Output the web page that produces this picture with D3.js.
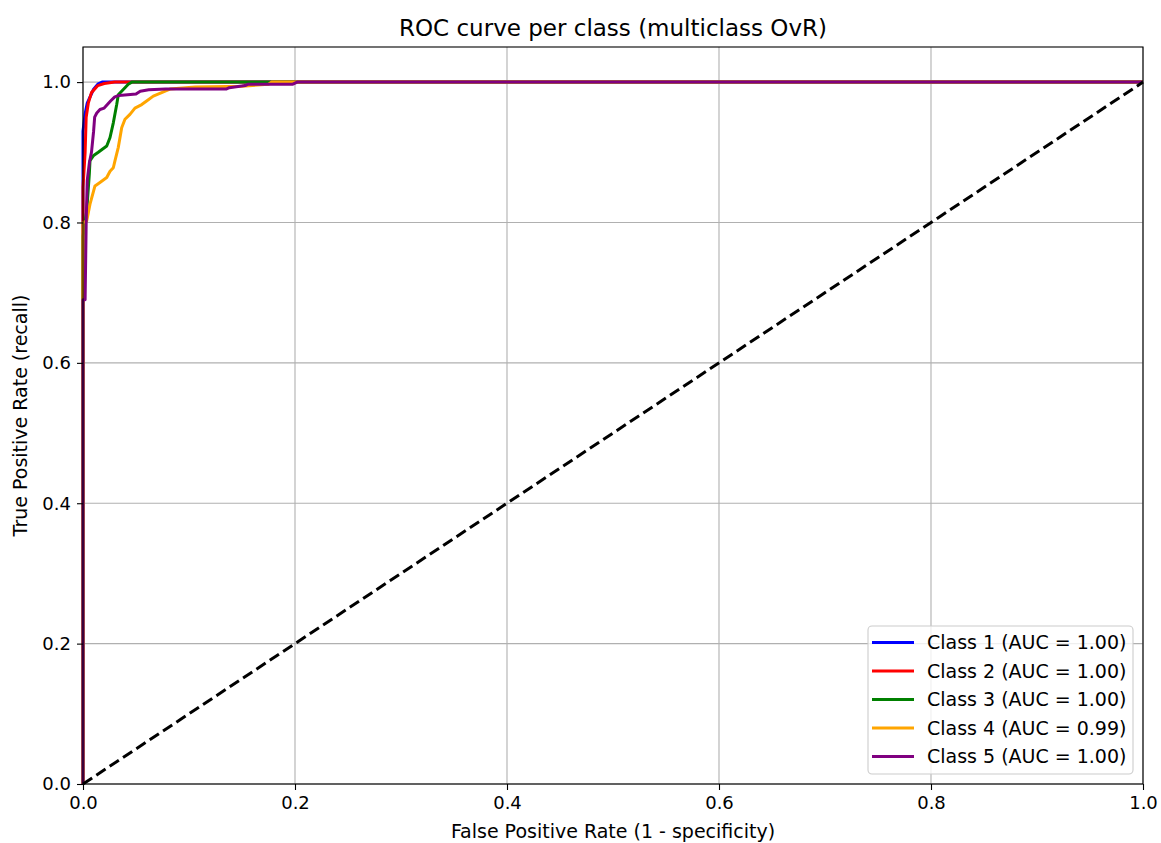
<!DOCTYPE html>
<html>
<head>
<meta charset="utf-8">
<script src="https://cdn.jsdelivr.net/npm/d3@7"></script>
<style>
  body { margin: 0; background: #fff; }
  svg text { font-family: "DejaVu Sans", sans-serif; fill: #000; }
</style>
</head>
<body>
<svg id="chart" width="1161" height="843"></svg>
<script>
// ROC points per class, [fpr, tpr]
var class1 = [[0,0],[0,0.93],[0.002,0.955],[0.004,0.97],[0.007,0.98],[0.01,0.99],[0.014,0.997],[0.018,1.0],[1,1]];
var class2 = [[0,0],[0,0.85],[0.002,0.9],[0.003,0.95],[0.005,0.97],[0.008,0.985],[0.014,0.995],[0.02,0.998],[0.03,1.0],[1,1]];
var class3 = [[0,0],[0,0.78],[0.0035,0.816],[0.006,0.87],[0.0066,0.888],[0.0097,0.895],[0.0144,0.9],[0.0224,0.909],[0.0255,0.921],
              [0.0286,0.942],[0.0318,0.968],[0.0333,0.982],[0.0396,0.992],[0.0427,0.997],[0.046,1.0],[1,1]];
var class4 = [[0,0],[0,0.8],[0.0035,0.802],[0.0066,0.826],[0.0113,0.852],[0.016,0.857],[0.0224,0.864],[0.0255,0.873],[0.0286,0.878],
              [0.0302,0.888],[0.0333,0.907],[0.0365,0.935],[0.0396,0.947],[0.0443,0.954],[0.049,0.963],[0.0554,0.968],[0.06,0.973],
              [0.0663,0.98],[0.0742,0.985],[0.082,0.99],[0.106,0.993],[0.15,0.994],[0.175,0.997],[0.178,1.0],[1,1]];
var class5 = [[0,0],[0,0.69],[0.002,0.69],[0.003,0.8],[0.004,0.86],[0.006,0.885],[0.008,0.9],[0.01,0.93],[0.011,0.95],[0.013,0.956],
              [0.016,0.961],[0.02,0.963],[0.023,0.968],[0.026,0.973],[0.03,0.979],[0.034,0.981],[0.05,0.983],[0.054,0.987],
              [0.062,0.989],[0.078,0.99],[0.135,0.99],[0.138,0.992],[0.153,0.995],[0.156,0.997],[0.198,0.997],[0.202,1.0],[1,1]];

var classNames = ["Class 1", "Class 2", "Class 3", "Class 4", "Class 5"];
var aucValues = [1.00, 1.00, 1.00, 0.99, 1.00];
var colors = ["blue", "red", "green", "orange", "purple"];
var curves = [class1, class2, class3, class4, class5];
var tickValues = [0, 0.2, 0.4, 0.6, 0.8, 1.0];

var svg = d3.select("#chart");
var plotLeft = 83, plotRight = 1143, plotTop = 47, plotBottom = 784;

var x = d3.scaleLinear().domain([0, 1]).range([plotLeft, plotRight]);
var y = d3.scaleLinear().domain([0, 1.05]).range([plotBottom, plotTop]);

// grid
svg.append("g").selectAll("line")
  .data(tickValues).enter().append("line")
  .attr("x1", d => x(d)).attr("x2", d => x(d))
  .attr("y1", plotTop).attr("y2", plotBottom)
  .attr("stroke", "#b0b0b0").attr("stroke-width", 1.1);
svg.append("g").selectAll("line")
  .data(tickValues).enter().append("line")
  .attr("x1", plotLeft).attr("x2", plotRight)
  .attr("y1", d => y(d)).attr("y2", d => y(d))
  .attr("stroke", "#b0b0b0").attr("stroke-width", 1.1);

var line = d3.line().x(d => x(d[0])).y(d => y(d[1]));

var plot = svg.append("g");
curves.forEach(function(c, i) {
  plot.append("path")
    .datum(c)
    .attr("d", line)
    .attr("fill", "none")
    .attr("stroke", colors[i])
    .attr("stroke-width", 3)
    .attr("stroke-linejoin", "round");
});

// chance line
plot.append("path")
  .datum([[0, 0], [1, 1]])
  .attr("d", line)
  .attr("fill", "none")
  .attr("stroke", "black")
  .attr("stroke-width", 3)
  .attr("stroke-dasharray", "11,5");

// axes
var xAxis = d3.axisBottom(x).tickValues(tickValues).tickFormat(d3.format(".1f")).tickSize(6).tickPadding(6);
var yAxis = d3.axisLeft(y).tickValues(tickValues).tickFormat(d3.format(".1f")).tickSize(6).tickPadding(6);

var gx = svg.append("g").attr("transform", "translate(0," + plotBottom + ")").call(xAxis);
var gy = svg.append("g").attr("transform", "translate(" + plotLeft + ",0)").call(yAxis);
[gx, gy].forEach(function(g) {
  g.select(".domain").remove();
  g.selectAll(".tick line").attr("stroke", "#000").attr("stroke-width", 1.1);
  g.selectAll(".tick text").style("font-size", "18px").attr("fill", "#000");
});

// frame
svg.append("rect")
  .attr("x", plotLeft).attr("y", plotTop)
  .attr("width", plotRight - plotLeft).attr("height", plotBottom - plotTop)
  .attr("fill", "none").attr("stroke", "#000").attr("stroke-width", 1.1);

// labels
svg.append("text")
  .attr("x", (plotLeft + plotRight) / 2).attr("y", 36)
  .attr("text-anchor", "middle")
  .style("font-size", "23px")
  .text("ROC curve per class (multiclass OvR)");

svg.append("text")
  .attr("x", (plotLeft + plotRight) / 2).attr("y", 838)
  .attr("text-anchor", "middle")
  .style("font-size", "19px")
  .text("False Positive Rate (1 - specificity)");

svg.append("text")
  .attr("transform", "translate(27," + ((plotTop + plotBottom) / 2) + ") rotate(-90)")
  .attr("text-anchor", "middle")
  .style("font-size", "19px")
  .text("True Positive Rate (recall)");

// legend
var legend = svg.append("g");
legend.append("rect")
  .attr("x", 868).attr("y", 626)
  .attr("width", 265).attr("height", 148)
  .attr("rx", 4)
  .attr("fill", "white").attr("fill-opacity", 0.8)
  .attr("stroke", "#cccccc").attr("stroke-width", 1.1);

var rows = legend.selectAll("g.row")
  .data(classNames).enter().append("g")
  .attr("transform", (d, i) => "translate(0," + (642.5 + i * 28.5) + ")");
rows.append("line")
  .attr("x1", 872).attr("x2", 914)
  .attr("stroke", (d, i) => colors[i]).attr("stroke-width", 3);
rows.append("text")
  .attr("x", 927).attr("dy", "0.35em")
  .style("font-size", "19px")
  .text((d, i) => d + " (AUC = " + aucValues[i].toFixed(2) + ")");
</script>
</body>
</html>
